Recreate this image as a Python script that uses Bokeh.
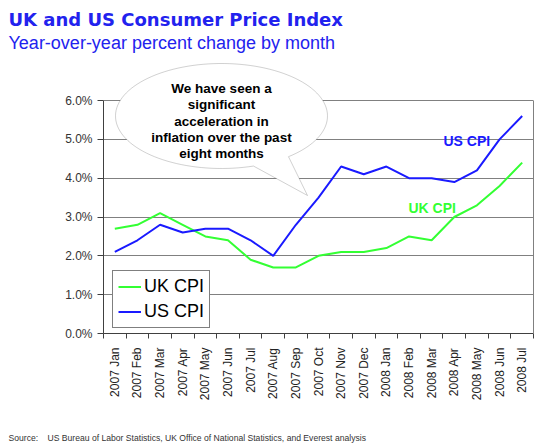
import math
import numpy as np
from bokeh.plotting import figure
from bokeh.layouts import column
from bokeh.models import (Range1d, FixedTicker, Label, PolyAnnotation, Legend,
                          LegendItem, ColumnDataSource, LinearAxis)
from bokeh.embed import file_html
from bokeh.resources import INLINE

# ---------------- data ----------------
months = ["2007 Jan", "2007 Feb", "2007 Mar", "2007 Apr", "2007 May", "2007 Jun",
          "2007 Jul", "2007 Aug", "2007 Sep", "2007 Oct", "2007 Nov", "2007 Dec",
          "2008 Jan", "2008 Feb", "2008 Mar", "2008 Apr", "2008 May", "2008 Jun",
          "2008 Jul"]
uk_cpi = [2.7, 2.8, 3.1, 2.8, 2.5, 2.4, 1.9, 1.7, 1.7, 2.0, 2.1, 2.1,
          2.2, 2.5, 2.4, 3.0, 3.3, 3.8, 4.4]
us_cpi = [2.1, 2.4, 2.8, 2.6, 2.7, 2.7, 2.4, 2.0, 2.8, 3.5, 4.3, 4.1,
          4.3, 4.0, 4.0, 3.9, 4.2, 5.0, 5.6]
y_ticks = [0, 1, 2, 3, 4, 5, 6]
y_tick_labels = ["0.0%", "1.0%", "2.0%", "3.0%", "4.0%", "5.0%", "6.0%"]

title_text = "UK and US Consumer Price Index"
subtitle_text = "Year-over-year percent change by month"
callout_lines = ["We have seen a", "significant", "acceleration in",
                 "inflation over the past", "eight months"]
source_label = "Source:"
source_text = ("US Bureau of Labor Statistics, UK Office of National Statistics, "
               "and Everest analysis")

# ---------------- layout ----------------
W, H = 550, 448
TOP_H = 56          # height of the title strip
BOT_H = 28          # height of the source strip
MAIN_H = H - TOP_H - BOT_H
FL, FR = 103, 533   # frame left / right (canvas px)
Y6, Y0 = 100, 333   # canvas px of 6% and 0%
FTOP = 60           # canvas px of the main frame top (room for the bubble)
FONT = "Liberation Sans"
TITLE_FONT = "DejaVu Sans"
BLUE = "#1a1aff"
GREEN = "#33ff33"
TITLE_BLUE = "#2222ee"

n = len(months)
x_pos = [i + 0.5 for i in range(n)]
x_lo, x_hi = 0, n
y_lo, y_top_tick = y_ticks[0], y_ticks[-1]


def px2x(px):
    return x_lo + (px - FL) / (FR - FL) * (x_hi - x_lo)


def py2y(py):
    return y_lo + (Y0 - py) / (Y0 - Y6) * (y_top_tick - y_lo)


def strip(height):
    f = figure(width=W, height=height, x_range=Range1d(0, W), y_range=Range1d(height, 0),
               output_backend="svg", toolbar_location=None, frame_align=False,
               min_border_left=0, min_border_right=0, min_border_top=0, min_border_bottom=0)
    f.axis.visible = False
    f.grid.visible = False
    f.outline_line_color = None
    f.background_fill_color = "white"
    f.border_fill_color = "white"
    return f


# ---------------- title strip ----------------
top = strip(TOP_H)
top.add_layout(Label(x=8, y=19, text=title_text, text_baseline="alphabetic",
                     text_font=TITLE_FONT, text_font_size="18px", text_font_style="bold",
                     text_color=TITLE_BLUE))
top.add_layout(Label(x=8, y=42, text=subtitle_text, text_baseline="alphabetic",
                     text_font=FONT, text_font_size="18px", text_color=TITLE_BLUE))

# ---------------- main chart ----------------
src = ColumnDataSource(dict(x=x_pos, month=months, uk=uk_cpi, us=us_cpi))

p = figure(width=W, height=MAIN_H, x_range=Range1d(x_lo, x_hi),
           y_range=Range1d(y_lo, py2y(FTOP)),
           output_backend="svg", toolbar_location=None, frame_align=False,
           min_border_left=FL, min_border_right=W - FR,
           min_border_top=FTOP - TOP_H, min_border_bottom=(H - BOT_H) - Y0)
p.background_fill_color = "white"
p.border_fill_color = "white"
p.outline_line_color = None

# y axis
p.yaxis.bounds = (y_lo, y_top_tick)
p.yaxis.ticker = FixedTicker(ticks=y_ticks, minor_ticks=[])
p.yaxis.major_label_overrides = {t: l for t, l in zip(y_ticks, y_tick_labels)}
p.yaxis.major_tick_out = 6
p.yaxis.major_tick_in = 0
p.yaxis.minor_tick_line_color = None
p.yaxis.axis_line_color = "#404040"
p.yaxis.major_tick_line_color = "#404040"
p.yaxis.major_label_text_font = FONT
p.yaxis.major_label_text_font_size = "12px"
p.yaxis.major_label_text_color = "#333333"
p.yaxis.major_label_standoff = 5

# right border of the plot area
rax = LinearAxis(bounds=(y_lo, y_top_tick), ticker=FixedTicker(ticks=[], minor_ticks=[]),
                 axis_line_color="#808080", major_label_text_font_size="0px",
                 major_tick_line_color=None, minor_tick_line_color=None)
p.add_layout(rax, "right")

# x axis
p.xaxis.ticker = FixedTicker(ticks=x_pos, minor_ticks=list(range(n + 1)))
p.xaxis.major_label_overrides = {x: m for x, m in zip(x_pos, months)}
p.xaxis.major_tick_out = 0
p.xaxis.major_tick_in = 0
p.xaxis.minor_tick_out = 5
p.xaxis.minor_tick_in = 0
p.xaxis.minor_tick_line_color = "#404040"
p.xaxis.axis_line_color = "#404040"
p.xaxis.major_label_orientation = math.pi / 2
p.xaxis.major_label_standoff = 9
p.xaxis.major_label_text_font = FONT
p.xaxis.major_label_text_font_size = "12px"
p.xaxis.major_label_text_color = "#222222"

# grid
p.xgrid.visible = False
p.ygrid.ticker = FixedTicker(ticks=y_ticks, minor_ticks=[])
p.ygrid.grid_line_color = "#808080"
p.ygrid.grid_line_width = 1

# lines
r_uk = p.line("x", "uk", source=src, line_color=GREEN, line_width=2)
r_us = p.line("x", "us", source=src, line_color=BLUE, line_width=2)

legend = Legend(items=[LegendItem(label="UK CPI", renderers=[r_uk]),
                       LegendItem(label="US CPI", renderers=[r_us])],
                location=(9, 5))
legend.label_text_font = FONT
legend.label_text_font_size = "18px"
legend.label_text_color = "black"
legend.border_line_color = "black"
legend.border_line_width = 1
legend.background_fill_color = "white"
legend.background_fill_alpha = 1
legend.glyph_width = 23
legend.glyph_height = 21
legend.label_height = 21
legend.spacing = 4
legend.padding = 5
legend.margin = 0
legend.label_standoff = 3
p.add_layout(legend)

# inline series labels
p.add_layout(Label(x=px2x(443), y=py2y(140), text="US CPI", text_baseline="middle",
                   text_font=FONT, text_font_size="14px", text_font_style="bold",
                   text_color=BLUE))
p.add_layout(Label(x=px2x(408), y=py2y(207), text="UK CPI", text_baseline="middle",
                   text_font=FONT, text_font_size="14px", text_font_style="bold",
                   text_color=GREEN))

# callout bubble
cx, cy, ra, rb = 221, 115.5, 106, 52.5
tip = (307, 195)
t1 = math.acos((253 - cx) / ra)
t2 = math.acos((288 - cx) / ra)
ts = np.linspace(t1, t2 + 2 * math.pi, 120)
bx = [px2x(cx + ra * math.cos(t)) for t in ts] + [px2x(tip[0])]
by = [py2y(cy + rb * math.sin(t)) for t in ts] + [py2y(tip[1])]
p.add_layout(PolyAnnotation(xs=bx, ys=by, fill_color="white", fill_alpha=1,
                            line_color="#666666", line_width=1, level="overlay"))
for i, line in enumerate(callout_lines):
    p.add_layout(Label(x=px2x(cx), y=py2y(88 + i * 16.3), text=line,
                       text_align="center", text_baseline="middle",
                       text_font=FONT, text_font_size="13.5px",
                       text_font_style="bold", text_color="black", level="overlay"))

# ---------------- source strip ----------------
bot = strip(BOT_H)
bot.add_layout(Label(x=8, y=437 - (H - BOT_H), text=source_label, text_baseline="alphabetic",
                     text_font=FONT, text_font_size="8.6px", text_color="#333333"))
bot.add_layout(Label(x=47, y=437 - (H - BOT_H), text=source_text, text_baseline="alphabetic",
                     text_font=FONT, text_font_size="8.6px", text_color="#333333"))

layout = column(top, p, bot, spacing=0)
open("out.html", "w").write(file_html(layout, INLINE))
